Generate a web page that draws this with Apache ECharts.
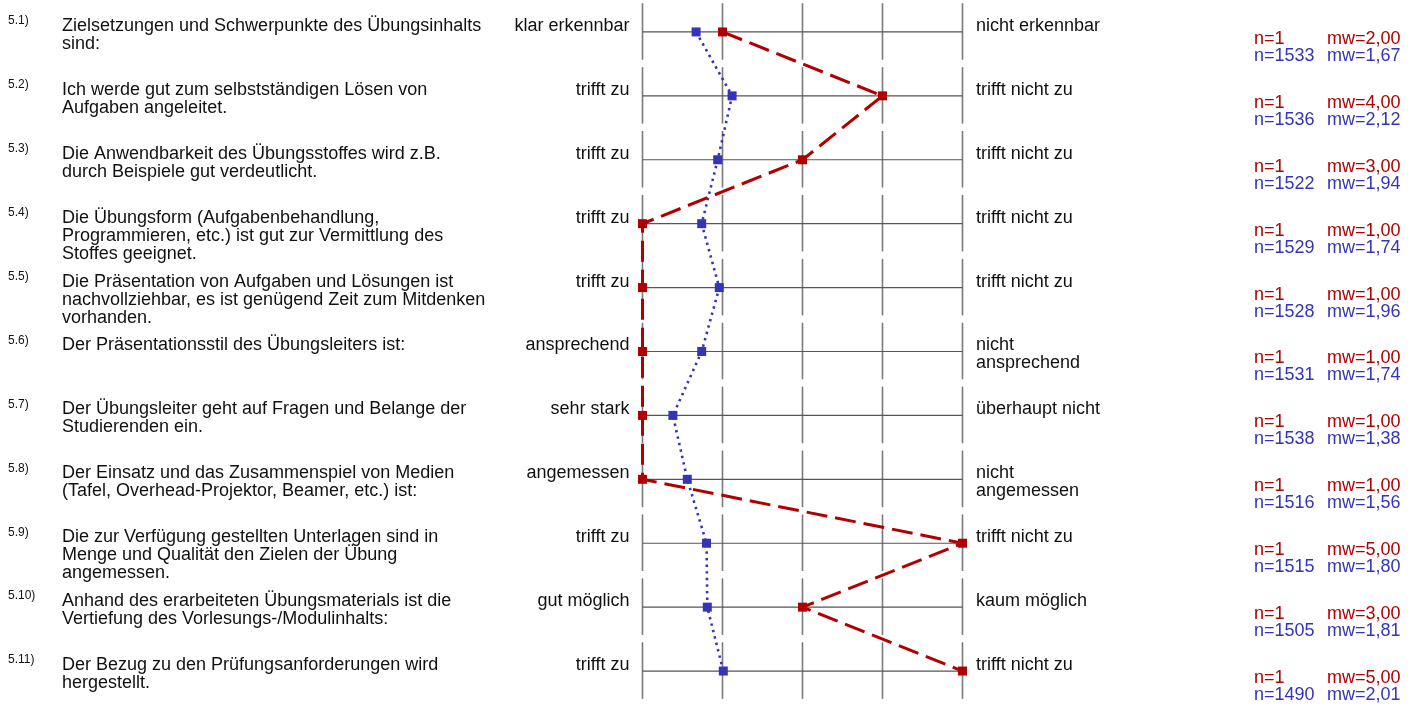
<!DOCTYPE html>
<html><head><meta charset="utf-8">
<script src="https://cdn.jsdelivr.net/npm/echarts@6/dist/echarts.min.js"></script>
<style>html,body{margin:0;padding:0;background:#fff}#c{width:1415px;height:706px}</style>
</head><body><div id="c"></div>
<script>
const itemNumbers = ['5.1)','5.2)','5.3)','5.4)','5.5)','5.6)','5.7)','5.8)','5.9)','5.10)','5.11)'];
const questions = [
  'Zielsetzungen und Schwerpunkte des Übungsinhalts\nsind:',
  'Ich werde gut zum selbstständigen Lösen von\nAufgaben angeleitet.',
  'Die Anwendbarkeit des Übungsstoffes wird z.B.\ndurch Beispiele gut verdeutlicht.',
  'Die Übungsform (Aufgabenbehandlung,\nProgrammieren, etc.) ist gut zur Vermittlung des\nStoffes geeignet.',
  'Die Präsentation von Aufgaben und Lösungen ist\nnachvollziehbar, es ist genügend Zeit zum Mitdenken\nvorhanden.',
  'Der Präsentationsstil des Übungsleiters ist:',
  'Der Übungsleiter geht auf Fragen und Belange der\nStudierenden ein.',
  'Der Einsatz und das Zusammenspiel von Medien\n(Tafel, Overhead-Projektor, Beamer, etc.) ist:',
  'Die zur Verfügung gestellten Unterlagen sind in\nMenge und Qualität den Zielen der Übung\nangemessen.',
  'Anhand des erarbeiteten Übungsmaterials ist die\nVertiefung des Vorlesungs-/Modulinhalts:',
  'Der Bezug zu den Prüfungsanforderungen wird\nhergestellt.'
];
const leftAnchors = ['klar erkennbar','trifft zu','trifft zu','trifft zu','trifft zu','ansprechend','sehr stark','angemessen','trifft zu','gut möglich','trifft zu'];
const rightAnchors = ['nicht erkennbar','trifft nicht zu','trifft nicht zu','trifft nicht zu','trifft nicht zu','nicht\nansprechend','überhaupt nicht','nicht\nangemessen','trifft nicht zu','kaum möglich','trifft nicht zu'];
const redN = [1,1,1,1,1,1,1,1,1,1,1];
const redMean = [2,4,3,1,1,1,1,1,5,3,5];
const blueN = [1533,1536,1522,1529,1528,1531,1538,1516,1515,1505,1490];
const blueMean = [1.67,2.12,1.94,1.74,1.96,1.74,1.38,1.56,1.80,1.81,2.01];
const scaleTicks = [1,2,3,4,5];

const RED = '#b00000';
const BLUE = '#3434b8';
const FONT = '"Liberation Sans", Arial, Helvetica, sans-serif';
const fmt = v => v.toFixed(2).replace('.', ',');
const rows = itemNumbers.map((_, i) => i);

const chart = echarts.init(document.getElementById('c'));
chart.setOption({
  animation: false,
  grid: { left: 642.5, width: 320, top: 0, height: 703 },
  xAxis: { type: 'value', min: 1, max: 5, interval: 1, show: false },
  yAxis: { type: 'value', min: -0.5, max: 10.5, inverse: true, show: false },
  series: [
    {
      type: 'custom', silent: true, clip: false, z: 1,
      data: rows.map(i => [3, i]),
      renderItem: (params, api) => {
        const i = api.value(1);
        const h = api.size([0, 1])[1];
        const children = [];
        scaleTicks.forEach(v => {
          const p = api.coord([v, i]);
          children.push({ type: 'line', shape: { x1: p[0], y1: p[1] - h * 0.45, x2: p[0], y2: p[1] + h * 0.435 },
            style: { stroke: '#7a7a7a', lineWidth: 1.6 } });
        });
        const a = api.coord([1, i]), b = api.coord([5, i]);
        children.push({ type: 'line', shape: { x1: a[0], y1: a[1], x2: b[0], y2: b[1] }, style: { stroke: '#555', lineWidth: 1.2 } });
        return { type: 'group', children };
      }
    },
    {
      type: 'custom', silent: true, clip: false, z: 2,
      data: rows.map(i => [1, i]),
      renderItem: (params, api) => {
        const i = api.value(1);
        const y = api.coord([1, i])[1];
        const xl = api.coord([1, i])[0];
        const xr = api.coord([5, i])[0];
        const base = { fontFamily: FONT, fontSize: 18, lineHeight: 18, fill: '#111', verticalAlign: 'top' };
        return { type: 'group', children: [
          { type: 'text', x: 8, y: y - 17, style: { text: itemNumbers[i], fontFamily: FONT, fontSize: 12, lineHeight: 12, fill: '#111', verticalAlign: 'top' } },
          { type: 'text', x: 62, y: y - 15, style: Object.assign({}, base, { text: questions[i], align: 'left' }) },
          { type: 'text', x: xl - 13, y: y - 15, style: Object.assign({}, base, { text: leftAnchors[i], align: 'right' }) },
          { type: 'text', x: xr + 13.5, y: y - 15, style: Object.assign({}, base, { text: rightAnchors[i], align: 'left' }) },
          { type: 'text', x: 1254, y: y - 2, style: Object.assign({}, base, { text: 'n=' + redN[i], fill: RED }) },
          { type: 'text', x: 1327, y: y - 2, style: Object.assign({}, base, { text: 'mw=' + fmt(redMean[i]), fill: RED }) },
          { type: 'text', x: 1254, y: y + 15, style: Object.assign({}, base, { text: 'n=' + blueN[i], fill: BLUE }) },
          { type: 'text', x: 1327, y: y + 15, style: Object.assign({}, base, { text: 'mw=' + fmt(blueMean[i]), fill: BLUE }) }
        ]};
      }
    },
    {
      type: 'line', z: 3, data: blueMean.map((v, i) => [v, i]),
      symbol: 'rect', symbolSize: 9, itemStyle: { color: BLUE },
      lineStyle: { color: BLUE, width: 2.6, type: [2.4, 4.2] }
    },
    {
      type: 'line', z: 4, data: redMean.map((v, i) => [v, i]),
      symbol: 'rect', symbolSize: 9, itemStyle: { color: RED },
      lineStyle: { color: RED, width: 3, type: [21, 8] }
    }
  ]
});
</script></body></html>
